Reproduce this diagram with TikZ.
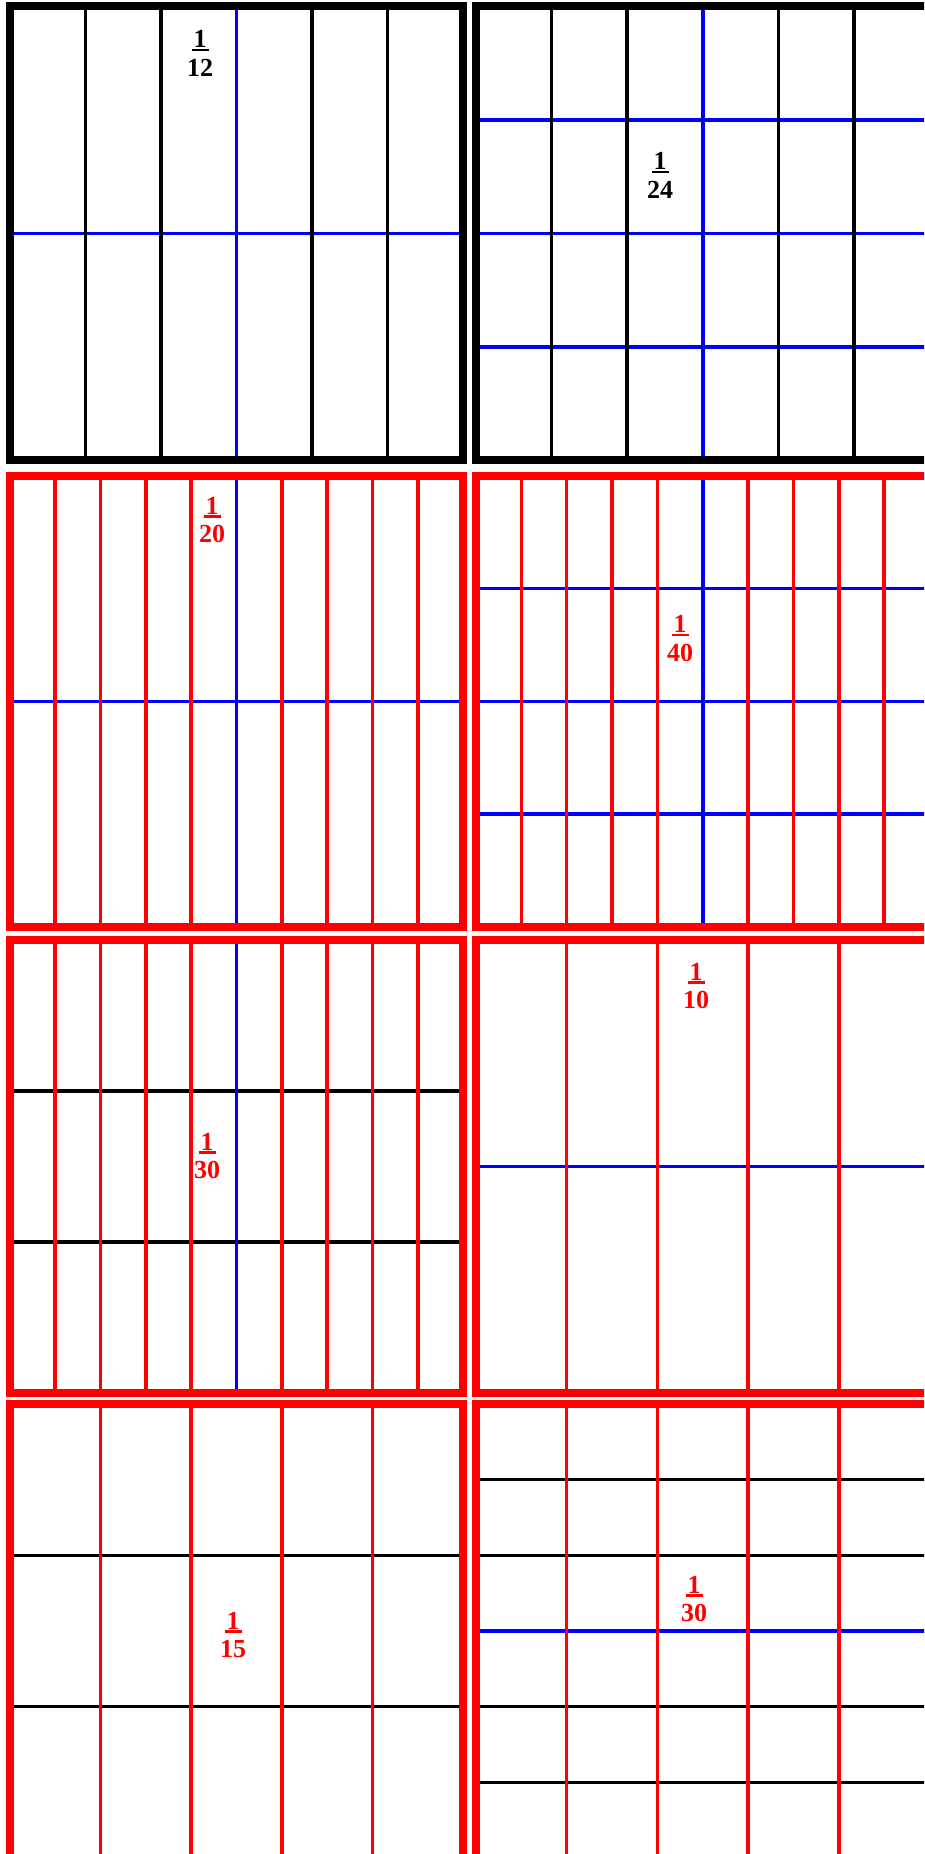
\documentclass[tikz,border=0pt]{standalone}
\usepackage{fontspec}
\setmainfont{Liberation Serif}
\usepackage{xcolor}
\usepackage{tikz}
\definecolor{fracred}{RGB}{255,0,0}
\definecolor{fracblue}{RGB}{0,0,255}
\newcommand\fracnum[1]{\vtop{\hbox{\kern2pt#1\kern2pt}\kern1.2pt\hrule height 2.2pt}}

\begin{document}
\begin{tikzpicture}[x=1pt, y=-1pt,
  border/.style={line width=8pt},
  grid line/.style={line width=3.5pt},
  frac/.style={font=\fontsize{26}{28.5}\selectfont\bfseries, align=center, inner sep=0pt}]
\useasboundingbox (0,0) rectangle (924,1854);
\clip (0,0) rectangle (924,1854);

% row 1
\begin{scope}[shift={(9.7,6.3)}]
\draw[fracblue, grid line] (0,227) -- (453.5,227);
\foreach \k in {1,2,4,5} \draw[grid line] (\k*75.58,0) -- (\k*75.58,454);
\draw[fracblue, grid line] (226.75,0) -- (226.75,454);
\draw[border] (0,0) rectangle (453.5,454);
\end{scope}
\begin{scope}[shift={(476,6.3)}]
\foreach \k in {1,2,3} \draw[fracblue, grid line] (0,\k*113.5) -- (453.5,\k*113.5);
\foreach \k in {1,2,4,5} \draw[grid line] (\k*75.58,0) -- (\k*75.58,454);
\draw[fracblue, grid line] (226.75,0) -- (226.75,454);
\draw[border] (0,0) rectangle (453.5,454);
\end{scope}

% row 2
\begin{scope}[shift={(9.7,475.5)}]
\draw[fracblue, grid line] (0,225.75) -- (453.5,225.75);
\foreach \k in {1,2,3,4,6,7,8,9} \draw[fracred, grid line] (\k*45.35,0) -- (\k*45.35,451.5);
\draw[fracblue, grid line] (226.75,0) -- (226.75,451.5);
\draw[fracred, border] (0,0) rectangle (453.5,451.5);
\end{scope}
\begin{scope}[shift={(476,475.5)}]
\foreach \k in {1,2,3} \draw[fracblue, grid line] (0,\k*112.9) -- (453.5,\k*112.9);
\foreach \k in {1,2,3,4,6,7,8,9} \draw[fracred, grid line] (\k*45.35,0) -- (\k*45.35,451.5);
\draw[fracblue, grid line] (226.75,0) -- (226.75,451.5);
\draw[fracred, border] (0,0) rectangle (453.5,451.5);
\end{scope}

% row 3
\begin{scope}[shift={(9.7,939.7)}]
\foreach \k in {1,2} \draw[grid line] (0,\k*151.1) -- (453.5,\k*151.1);
\foreach \k in {1,2,3,4,6,7,8,9} \draw[fracred, grid line] (\k*45.35,0) -- (\k*45.35,453.3);
\draw[fracblue, grid line] (226.75,0) -- (226.75,453.3);
\draw[fracred, border] (0,0) rectangle (453.5,453.3);
\end{scope}
\begin{scope}[shift={(476,939.7)}]
\draw[fracblue, grid line] (0,226.65) -- (453.5,226.65);
\foreach \k in {1,2,3,4} \draw[fracred, grid line] (\k*90.7,0) -- (\k*90.7,453.3);
\draw[fracred, border] (0,0) rectangle (453.5,453.3);
\end{scope}

% row 4
\begin{scope}[shift={(9.7,1404)}]
\foreach \k in {1,2} \draw[grid line] (0,\k*151.3) -- (453.5,\k*151.3);
\foreach \k in {1,2,3,4} \draw[fracred, grid line] (\k*90.7,0) -- (\k*90.7,454);
\draw[fracred, border] (0,0) rectangle (453.5,454);
\end{scope}
\begin{scope}[shift={(476,1404)}]
\foreach \k in {1,2,4,5} \draw[grid line] (0,\k*75.67) -- (453.5,\k*75.67);
\draw[fracblue, grid line] (0,227) -- (453.5,227);
\foreach \k in {1,2,3,4} \draw[fracred, grid line] (\k*90.7,0) -- (\k*90.7,454);
\draw[fracred, border] (0,0) rectangle (453.5,454);
\end{scope}

\node[frac] (twelfth) at (200,53.5) {\fracnum{1}\\12};
\node[frac] (twentyfourth) at (660,175.5) {\fracnum{1}\\24};
\node[frac, fracred] (twentieth) at (212,520) {\fracnum{1}\\20};
\node[frac, fracred] (fortieth) at (680,638.5) {\fracnum{1}\\40};
\node[frac, fracred] (thirtieth) at (207,1156) {\fracnum{1}\\30};
\node[frac, fracred] (tenth) at (696,986) {\fracnum{1}\\10};
\node[frac, fracred] (fifteenth) at (233,1635) {\fracnum{1}\\15};
\node[frac, fracred] (thirtieth b) at (694,1599) {\fracnum{1}\\30};
\end{tikzpicture}
\end{document}
